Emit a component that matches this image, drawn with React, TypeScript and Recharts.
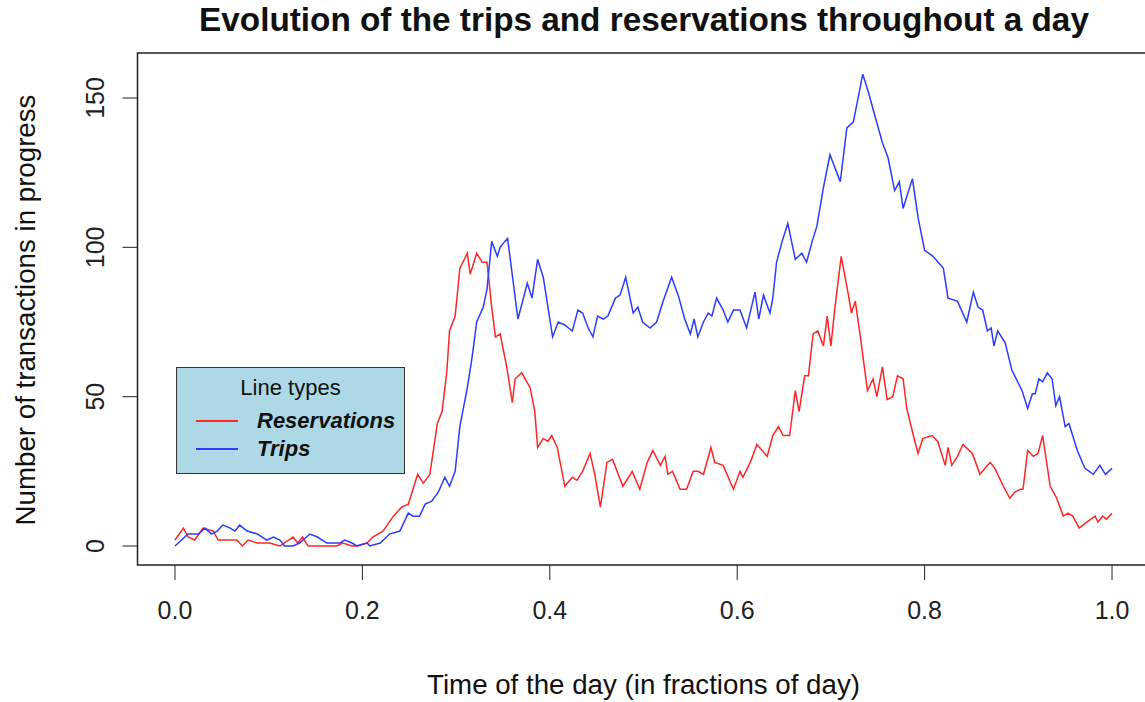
import { LineChart, Line, XAxis, YAxis, ReferenceArea, Legend, Label } from "recharts"

// time of day (fraction) and number of reservations in progress
const resT = [
  0, 0.009, 0.014, 0.021, 0.03, 0.041, 0.046, 0.066, 0.072, 0.078,
  0.088, 0.101, 0.112, 0.126, 0.131, 0.136, 0.142, 0.152, 0.173, 0.179,
  0.189, 0.194, 0.205, 0.211, 0.222, 0.233, 0.242, 0.249, 0.254, 0.259,
  0.265, 0.272, 0.28, 0.285, 0.29, 0.293, 0.299, 0.304, 0.312, 0.315,
  0.322, 0.328, 0.333, 0.338, 0.342, 0.347, 0.354, 0.36, 0.363, 0.37,
  0.379, 0.384, 0.387, 0.393, 0.398, 0.402, 0.408, 0.416, 0.424, 0.429,
  0.435, 0.443, 0.448, 0.454, 0.461, 0.467, 0.473, 0.478, 0.488, 0.496,
  0.504, 0.51, 0.518, 0.523, 0.526, 0.531, 0.539, 0.546, 0.553, 0.558,
  0.564, 0.572, 0.576, 0.585, 0.596, 0.603, 0.606, 0.614, 0.621, 0.632,
  0.638, 0.644, 0.649, 0.656, 0.662, 0.666, 0.672, 0.676, 0.681, 0.686,
  0.692, 0.696, 0.7, 0.704, 0.711, 0.717, 0.722, 0.726, 0.731, 0.739,
  0.745, 0.749, 0.755, 0.76, 0.766, 0.771, 0.777, 0.781, 0.788, 0.793,
  0.798, 0.808, 0.814, 0.822, 0.825, 0.829, 0.835, 0.841, 0.851, 0.859,
  0.87, 0.875, 0.884, 0.891, 0.896, 0.902, 0.905, 0.91, 0.916, 0.921,
  0.926, 0.934, 0.941, 0.948, 0.953, 0.958, 0.965, 0.973, 0.982, 0.985,
  0.99, 0.994, 1
]
const resV = [
  2, 6, 3, 2, 6, 5, 2, 2, 0, 2,
  1, 1, 0, 3, 1, 3, 0, 0, 0, 1,
  0, 0, 1, 3, 5, 10, 13, 14, 19, 24,
  21, 24, 41, 45, 58, 72, 77, 93, 98, 91,
  98, 95, 95, 80, 70, 71, 60, 48, 56, 58,
  53, 45, 33, 36, 35, 37, 33, 20, 23, 22,
  25, 31, 24, 13, 28, 29, 24, 20, 25, 19,
  28, 32, 27, 30, 24, 25, 19, 19, 25, 25,
  24, 33, 28, 27, 19, 25, 23, 28, 34, 30,
  37, 40, 37, 37, 52, 45, 57, 57, 71, 72,
  67, 77, 67, 79, 97, 87, 78, 82, 71, 52,
  56, 50, 60, 49, 50, 57, 56, 46, 37, 31,
  36, 37, 35, 27, 33, 27, 30, 34, 31, 24,
  28, 26, 20, 16, 18, 19, 19, 32, 30, 31,
  37, 20, 16, 10, 11, 10, 6, 8, 10, 8,
  10, 9, 11
]

// time of day (fraction) and number of trips in progress
const tripT = [
  0, 0.014, 0.025, 0.032, 0.039, 0.045, 0.051, 0.059, 0.064, 0.069,
  0.077, 0.088, 0.098, 0.105, 0.112, 0.117, 0.126, 0.133, 0.144, 0.152,
  0.162, 0.176, 0.181, 0.189, 0.194, 0.205, 0.208, 0.219, 0.229, 0.24,
  0.249, 0.254, 0.261, 0.267, 0.274, 0.281, 0.288, 0.293, 0.299, 0.304,
  0.312, 0.317, 0.322, 0.329, 0.333, 0.338, 0.344, 0.347, 0.352, 0.355,
  0.366, 0.376, 0.381, 0.387, 0.393, 0.403, 0.409, 0.416, 0.424, 0.43,
  0.435, 0.441, 0.446, 0.451, 0.457, 0.462, 0.47, 0.475, 0.481, 0.489,
  0.494, 0.499, 0.507, 0.514, 0.521, 0.53, 0.537, 0.544, 0.55, 0.554,
  0.558, 0.564, 0.569, 0.573, 0.578, 0.585, 0.59, 0.596, 0.603, 0.61,
  0.619, 0.623, 0.628, 0.635, 0.638, 0.642, 0.648, 0.654, 0.662, 0.669,
  0.674, 0.68, 0.685, 0.692, 0.699, 0.71, 0.717, 0.724, 0.734, 0.74,
  0.747, 0.755, 0.761, 0.768, 0.773, 0.777, 0.781, 0.787, 0.793, 0.8,
  0.809, 0.82, 0.825, 0.835, 0.845, 0.852, 0.857, 0.862, 0.867, 0.871,
  0.874, 0.878, 0.886, 0.893, 0.904, 0.91, 0.915, 0.918, 0.922, 0.926,
  0.931, 0.936, 0.94, 0.944, 0.95, 0.954, 0.963, 0.971, 0.98, 0.987,
  0.993, 1
]
const tripV = [
  0, 4, 4, 6, 4, 5, 7, 6, 5, 7,
  5, 4, 2, 3, 2, 0, 0, 1, 4, 3,
  1, 1, 2, 1, 0, 1, 0, 1, 4, 5,
  11, 10, 10, 14, 15, 18, 23, 20, 25, 40,
  53, 63, 75, 80, 86, 102, 97, 100, 102, 103,
  76, 88, 83, 96, 90, 70, 75, 74, 72, 79,
  78, 73, 70, 77, 76, 77, 83, 84, 90, 78,
  80, 75, 73, 75, 82, 90, 84, 76, 71, 76,
  70, 75, 78, 77, 83, 79, 75, 79, 79, 73,
  85, 76, 84, 78, 83, 95, 102, 108, 96, 98,
  95, 102, 107, 120, 131, 122, 140, 142, 158, 152,
  144, 135, 130, 119, 122, 113, 117, 123, 110, 99,
  97, 93, 83, 82, 75, 85, 80, 79, 72, 73,
  67, 72, 68, 59, 52, 46, 51, 51, 56, 55,
  58, 56, 47, 50, 40, 41, 32, 26, 24, 27,
  24, 26
]

const xTicks = [0, 0.2, 0.4, 0.6, 0.8, 1]
const yTicks = [0, 50, 100, 150]

const resData = resT.map((t, i) => ({ t, v: resV[i] }))
const tripData = tripT.map((t, i) => ({ t, v: tripV[i] }))

const FONT = '"Liberation Sans", Arial, Helvetica, sans-serif'
const X_DOM: [number, number] = [-0.04, 1.04]
const Y_DOM: [number, number] = [-6.36, 165.07]

const YTick = (p: any) => {
  const { x, y, payload } = p
  return (
    <text x={x} y={y} transform={`rotate(-90 ${x} ${y})`} textAnchor="middle"
      fontSize={25} fill="#222" fontFamily={FONT}>
      {payload.value}
    </text>
  )
}

const renderLegend = (props: any) => {
  const items = props.payload || []
  return (
    <div style={{
      position: "relative", width: 229, height: 107, boxSizing: "border-box",
      background: "#ADD8E6", border: "1.5px solid #333", fontFamily: FONT, color: "#111"
    }}>
      <div style={{ position: "absolute", top: 8, left: 0, width: "100%", textAlign: "center", fontSize: 22, lineHeight: "24px" }}>
        Line types
      </div>
      {items.map((it: any, i: number) => (
        <div key={it.value}>
          <div style={{ position: "absolute", left: 19, top: 52 + i * 28, width: 42, height: 2, background: it.color }} />
          <div style={{ position: "absolute", left: 80, top: 41 + i * 28, fontSize: 22, lineHeight: "24px", fontWeight: "bold", fontStyle: "italic" }}>
            {it.value}
          </div>
        </div>
      ))}
    </div>
  )
}

export default function App() {
  return (
    <div style={{ position: "absolute", left: 0, top: 0, width: 1145, height: 702, overflow: "hidden", background: "#fff" }}>
      <div style={{
        position: "absolute", top: 3, left: 0, width: 1288, textAlign: "center",
        fontFamily: FONT, fontSize: 33.3, fontWeight: "bold", lineHeight: "34px", color: "#111"
      }}>
        Evolution of the trips and reservations throughout a day
      </div>
      <LineChart width={1165} height={702} margin={{ top: 53, right: 15.5, bottom: 0, left: 0 }}>
        <XAxis dataKey="t" type="number" domain={X_DOM} ticks={xTicks} allowDataOverflow
          height={137} axisLine={false} tickSize={15} tickMargin={21}
          tickLine={{ stroke: "#222" }} tickFormatter={(v: number) => v.toFixed(1)}
          tick={{ fontSize: 25, fill: "#222", fontFamily: FONT }}>
          <Label content={() => (
            <text x={643.5} y={684} textAnchor="middle" dominantBaseline="central"
              fontSize={27.7} fill="#111" fontFamily={FONT}>
              Time of the day (in fractions of day)
            </text>
          )} />
        </XAxis>
        <YAxis type="number" domain={Y_DOM} ticks={yTicks} allowDataOverflow width={137.5}
          axisLine={false} tickSize={15} tickMargin={18.5} tickLine={{ stroke: "#222" }} tick={<YTick />}>
          <Label content={() => (
            <text x={25} y={310} transform="rotate(-90 25 310)" textAnchor="middle" dominantBaseline="central"
              fontSize={27.7} fill="#111" fontFamily={FONT}>
              Number of transactions in progress
            </text>
          )} />
        </YAxis>
        <ReferenceArea x1={X_DOM[0]} x2={X_DOM[1]} y1={Y_DOM[0]} y2={Y_DOM[1]}
          fill="none" fillOpacity={0} stroke="#222" strokeWidth={1.5} />
        <Line data={resData} dataKey="v" name="Reservations" type="linear" stroke="#ff2626"
          strokeWidth={1.5} dot={false} isAnimationActive={false} />
        <Line data={tripData} dataKey="v" name="Trips" type="linear" stroke="#2b3bff"
          strokeWidth={1.5} dot={false} isAnimationActive={false} />
        <Legend layout="vertical" align="center" verticalAlign="middle"
          wrapperStyle={{ left: 176, top: 367, width: 229, height: 107 }} content={renderLegend} />
      </LineChart>
    </div>
  )
}
